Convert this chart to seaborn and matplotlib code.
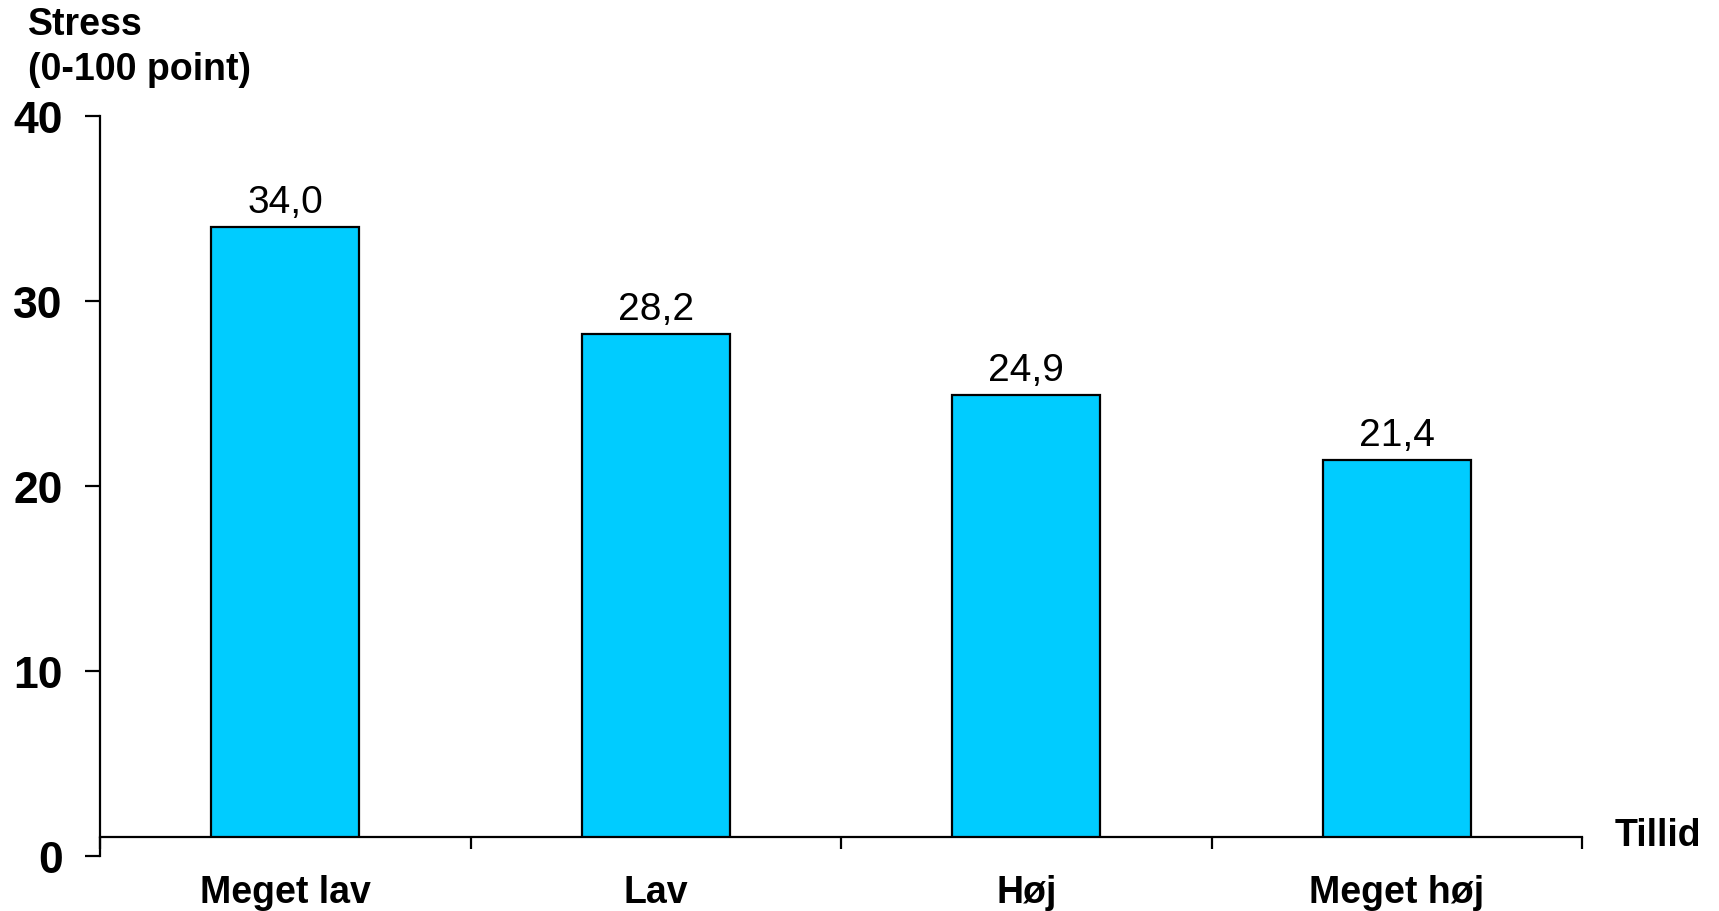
import matplotlib
matplotlib.use("Agg")
import matplotlib.pyplot as plt
from matplotlib.patches import Rectangle
from matplotlib.ticker import FixedLocator, NullFormatter
import pandas as pd
import seaborn as sns

# Data
categories = ["Meget lav", "Lav", "Høj", "Meget høj"]
stress = [34.0, 28.2, 24.9, 21.4]
y_ticks = [0, 10, 20, 30, 40]

sns.set_theme(style="white")
plt.rcParams["font.family"] = ["Liberation Sans", "DejaVu Sans"]
plt.rcParams["text.color"] = "black"

df = pd.DataFrame({"Tillid": categories, "Stress": stress})

W, H = 1719, 912
fig = plt.figure(figsize=(W / 100, H / 100), dpi=100)
ax = fig.add_axes([100 / W, 55 / H, 1482 / W, 740 / H])

sns.barplot(data=df, x="Tillid", y="Stress", order=categories, color="#00CCFF",
            saturation=1, width=0.4, edgecolor="black", linewidth=1.6, ax=ax)

ax.set_xlim(-0.5, 3.5)
ax.set_ylim(0, 40)

# Category axis sits slightly above zero; bars are cut at the axis line
base = 1.05
clip = Rectangle((0, base / 40), 1, 1 - base / 40, transform=ax.transAxes)
for p in ax.patches:
    p.set_clip_path(clip)

for side in ["top", "right"]:
    ax.spines[side].set_visible(False)
for side in ["left", "bottom"]:
    ax.spines[side].set_color("black")
    ax.spines[side].set_linewidth(1.6)
ax.spines["bottom"].set_position(("data", base))

# y axis
ax.set_yticks(y_ticks)
ax.set_yticklabels([str(t) for t in y_ticks], fontsize=32, fontweight="bold")
ax.tick_params(axis="y", left=True, direction="out", length=10.8, width=1.6, pad=16,
               color="black", labelcolor="black")

# x axis: boundary ticks as marks, category labels at centres
ax.xaxis.set_major_locator(FixedLocator([-0.5, 0.5, 1.5, 2.5, 3.5]))
ax.xaxis.set_major_formatter(NullFormatter())
ax.xaxis.set_minor_locator(FixedLocator(range(len(categories))))
ax.set_xticklabels(categories, minor=True, fontsize=27, fontweight="bold")
ax.tick_params(axis="x", which="major", bottom=True, direction="out", length=8.6, width=1.6,
               color="black")
ax.tick_params(axis="x", which="minor", bottom=True, length=0, pad=27, labelcolor="black")
ax.set_xlabel("")
ax.set_ylabel("")

# value labels
ax.bar_label(ax.containers[0], labels=[f"{v:.1f}".replace(".", ",") for v in stress],
             fontsize=28, padding=5, color="black")

fig.text(28 / W, 1 - 35 / H, "Stress", fontsize=27, fontweight="bold", va="baseline", ha="left")
fig.text(28 / W, 1 - 80 / H, "(0-100 point)", fontsize=27, fontweight="bold", va="baseline", ha="left")
fig.text(1615 / W, 1 - 836 / H, "Tillid", fontsize=27, fontweight="bold", va="center", ha="left")

fig.savefig("out.png", dpi=100, facecolor="white")
